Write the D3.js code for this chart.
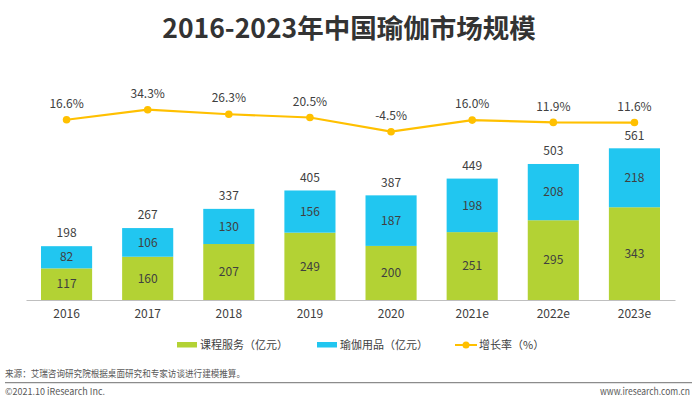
<!DOCTYPE html>
<html><head><meta charset="utf-8">
<script src="https://cdn.jsdelivr.net/npm/d3@7/dist/d3.min.js"></script>
<style>
html,body{margin:0;padding:0;background:#fff;}
svg{display:block;font-family:"Noto Sans CJK SC","Noto Sans",sans-serif;}
</style></head>
<body>
<svg id="chart" width="700" height="405"></svg>
<script>
const categories = ["2016","2017","2018","2019","2020","2021e","2022e","2023e"];
const courseValues = [117,160,207,249,200,251,295,343];
const goodsValues = [82,106,130,156,187,198,208,218];
const totalValues = [198,267,337,405,387,449,503,561];
const growthValues = [16.6,34.3,26.3,20.5,-4.5,16.0,11.9,11.6];
const seriesNames = ["课程服务（亿元）","瑜伽用品（亿元）","增长率（%）"];
const titleText = "2016-2023年中国瑜伽市场规模";
const sourceText = "来源：艾瑞咨询研究院根据桌面研究和专家访谈进行建模推算。";
const copyrightText = "©2021.10 iResearch Inc.";
const siteText = "www.iresearch.com.cn";

const GREEN = "#B3D234", BLUE = "#21C6F0", GOLD = "#FFC000", TXT = "#404040";
const svg = d3.select("#chart");

const x = d3.scaleBand().domain(categories).range([26, 675]).paddingInner(0.37).paddingOuter(0.185);
const y = d3.scaleLinear().domain([0, 561]).range([300, 148.3]);
const yg = d3.scaleLinear().domain([-4.5, 34.3]).range([131.7, 109.7]);

// title
svg.append("text").attr("x", 349).attr("y", 38).attr("text-anchor", "middle")
  .attr("font-size", 26.5).attr("font-weight", "bold").attr("fill", "#333333").text(titleText);

// bars
const stacks = categories.map((c, i) => ({c, a: courseValues[i], b: goodsValues[i], t: totalValues[i]}));
const g = svg.append("g");
g.selectAll("rect.course").data(stacks).join("rect").attr("class", "course")
  .attr("x", d => x(d.c)).attr("width", x.bandwidth())
  .attr("y", d => y(d.a)).attr("height", d => y(0) - y(d.a)).attr("fill", GREEN);
g.selectAll("rect.goods").data(stacks).join("rect").attr("class", "goods")
  .attr("x", d => x(d.c)).attr("width", x.bandwidth())
  .attr("y", d => y(d.a + d.b)).attr("height", d => y(d.a) - y(d.a + d.b)).attr("fill", BLUE);

const cx = d => x(d.c) + x.bandwidth() / 2;
g.selectAll("text.lc").data(stacks).join("text").attr("class", "lc")
  .attr("x", cx).attr("y", d => (y(0) + y(d.a)) / 2).attr("dy", "0.35em")
  .attr("text-anchor", "middle").attr("font-size", 12).attr("fill", TXT).text(d => d.a);
g.selectAll("text.lg").data(stacks).join("text").attr("class", "lg")
  .attr("x", cx).attr("y", d => (y(d.a) + y(d.a + d.b)) / 2).attr("dy", "0.35em")
  .attr("text-anchor", "middle").attr("font-size", 12).attr("fill", TXT).text(d => d.b);
g.selectAll("text.lt").data(stacks).join("text").attr("class", "lt")
  .attr("x", cx).attr("y", d => y(d.a + d.b) - 13).attr("dy", "0.35em")
  .attr("text-anchor", "middle").attr("font-size", 12).attr("fill", TXT).text(d => d.t);

// x axis
const xAxis = svg.append("g").attr("transform", "translate(0,300)")
  .call(d3.axisBottom(x).tickSize(0).tickPadding(9));
xAxis.select(".domain").attr("stroke", "#BFBFBF").attr("stroke-width", 1.2);
xAxis.selectAll("text").attr("font-size", 12).attr("fill", TXT)
  .attr("font-family", "\"Noto Sans CJK SC\",sans-serif");

// growth line
const pts = categories.map((c, i) => ({c, v: growthValues[i]}));
svg.append("path").datum(pts)
  .attr("d", d3.line().x(cx).y(d => yg(d.v)))
  .attr("fill", "none").attr("stroke", GOLD).attr("stroke-width", 2.2);
svg.selectAll("circle.pt").data(pts).join("circle").attr("class", "pt")
  .attr("cx", cx).attr("cy", d => yg(d.v)).attr("r", 3.8).attr("fill", GOLD);
svg.selectAll("text.pl").data(pts).join("text").attr("class", "pl")
  .attr("x", cx).attr("y", d => yg(d.v) - 16).attr("dy", "0.35em")
  .attr("text-anchor", "middle").attr("font-size", 12).attr("fill", TXT)
  .text(d => d.v.toFixed(1) + "%");

// legend
const lg = svg.append("g").attr("font-size", 11).attr("fill", TXT);
lg.append("rect").attr("x", 177).attr("y", 342).attr("width", 20).attr("height", 5.5).attr("fill", GREEN);
lg.append("text").attr("x", 200).attr("y", 345).attr("dy", "0.35em").text(seriesNames[0]);
lg.append("rect").attr("x", 317).attr("y", 342).attr("width", 20).attr("height", 5.5).attr("fill", BLUE);
lg.append("text").attr("x", 340).attr("y", 345).attr("dy", "0.35em").text(seriesNames[1]);
lg.append("line").attr("x1", 455).attr("x2", 477).attr("y1", 345).attr("y2", 345).attr("stroke", GOLD).attr("stroke-width", 2);
lg.append("circle").attr("cx", 466).attr("cy", 345).attr("r", 3.5).attr("fill", GOLD);
lg.append("text").attr("x", 479).attr("y", 345).attr("dy", "0.35em").text(seriesNames[2]);

// footer
svg.append("text").attr("x", 5).attr("y", 374).attr("dy", "0.35em").attr("font-size", 9.5)
  .attr("textLength", 240).attr("lengthAdjust", "spacingAndGlyphs")
  .attr("fill", "#595959").text(sourceText);
svg.append("line").attr("x1", 5).attr("x2", 692).attr("y1", 382.7).attr("y2", 382.7)
  .attr("stroke", "#8C8C8C").attr("stroke-width", 1.3);
svg.append("text").attr("x", 5).attr("y", 392).attr("dy", "0.35em").attr("font-size", 9.5)
  .attr("textLength", 100).attr("lengthAdjust", "spacingAndGlyphs")
  .attr("fill", "#595959").text(copyrightText);
svg.append("text").attr("x", 600).attr("y", 392).attr("dy", "0.35em").attr("font-size", 9.5)
  .attr("textLength", 90).attr("lengthAdjust", "spacingAndGlyphs")
  .attr("fill", "#595959").text(siteText);
</script>
</body></html>
